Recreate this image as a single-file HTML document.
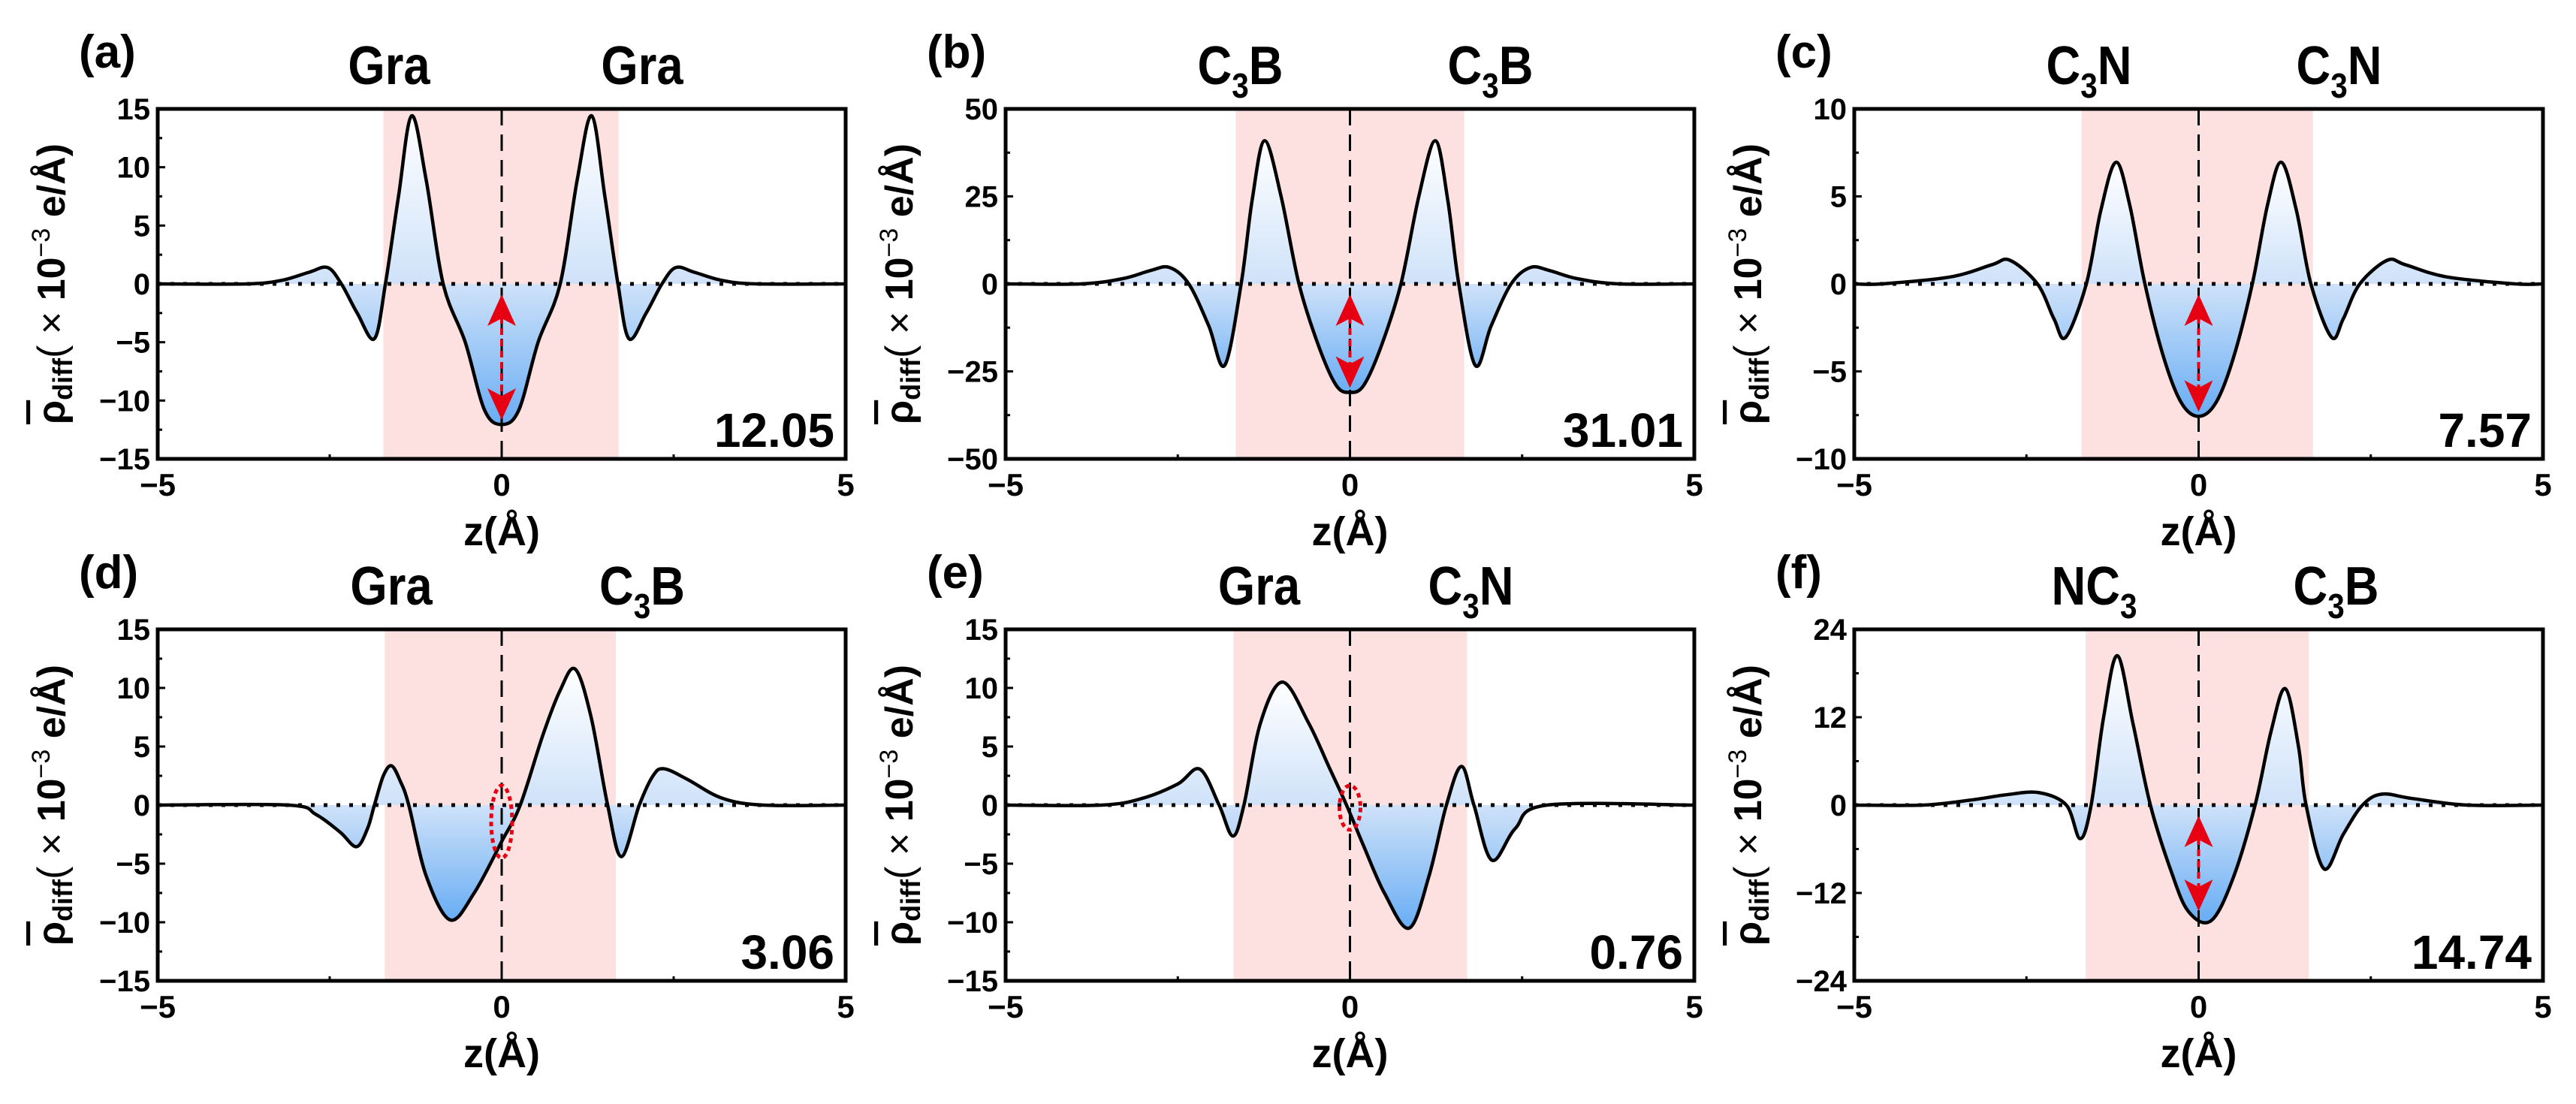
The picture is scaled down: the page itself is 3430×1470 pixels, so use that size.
<!DOCTYPE html>
<html><head><meta charset="utf-8"><style>
html,body{margin:0;padding:0;background:#fff;}
svg{display:block;}
text{font-family:"Liberation Sans Narrow","Liberation Sans",sans-serif;font-weight:bold;fill:#000;}
</style></head><body>
<svg id="fig" xmlns="http://www.w3.org/2000/svg" width="3430" height="1470" viewBox="0 0 3430 1470"></svg>
<script>
// ---- data ----
const zA=[-5,-3.7,-3.2,-2.8,-2.53,-2.33,-2.1,-1.85,-1.69,-1.5,-1.31,-1.1,-0.85,-0.53,-0.25,0,0.25,0.53,0.85,1.1,1.31,1.5,1.69,1.85,2.1,2.33,2.53,2.8,3.2,3.7,5];
const vA=[0,0,0.3,1.0,1.4,0,-2.5,-4.7,0,7.5,14.4,9,0,-5,-10.8,-12.05,-10.8,-5,0,9,14.4,7.5,0,-4.7,-2.5,0,1.4,1.0,0.3,0,0];
const zB=[-5,-3.9,-3.3,-2.9,-2.62,-2.34,-2.05,-1.82,-1.58,-1.42,-1.24,-1.0,-0.74,-0.45,-0.2,0,0.2,0.45,0.74,1.0,1.24,1.42,1.58,1.82,2.05,2.34,2.62,2.9,3.3,3.9,5];
const vB=[0,0,1.5,3.8,4.7,0,-12,-23.3,0,24,40.9,25,0,-18,-29,-31.0,-29,-18,0,25,40.9,24,0,-23.3,-12,0,4.7,3.8,1.5,0,0];
const zC=[-5,-4.6,-3.6,-3.0,-2.74,-2.34,-2.1,-1.93,-1.63,-1.42,-1.2,-1.0,-0.78,-0.5,-0.25,0,0.25,0.5,0.78,1.0,1.2,1.42,1.63,1.93,2.1,2.34,2.74,3.0,3.6,4.6,5];
const vC=[0,0,0.4,1.1,1.35,0,-2,-3.05,0,4.2,6.95,4.5,0,-4.3,-6.8,-7.57,-6.8,-4.3,0,4.5,6.95,4.2,0,-3.05,-2,0,1.35,1.1,0.4,0,0];
const zD=[-5,-3.1,-2.7,-2.35,-2.11,-1.95,-1.85,-1.72,-1.6,-1.47,-1.35,-1.1,-0.75,-0.4,0,0.27,0.6,0.85,1.07,1.3,1.54,1.74,2.0,2.2,2.36,2.7,3.2,3.8,5];
const vD=[0,0,-0.8,-2.3,-3.55,-2,0,2.5,3.35,2,0,-6,-9.8,-7.5,-3.1,0,6,9.8,11.6,7.5,0,-4.4,0,2.5,3.1,2.2,0.6,0,0];
const zE=[-5,-3.6,-3.0,-2.5,-2.18,-1.9,-1.7,-1.54,-1.3,-0.98,-0.6,-0.3,-0.05,0.2,0.5,0.86,1.15,1.4,1.62,1.8,2.06,2.4,2.86,5];
const vE=[0,0,0.6,1.8,3.07,0,-2.65,0,7,10.5,7,3.2,0,-3.5,-7.5,-10.5,-6,0,3.3,0,-4.7,-2,0,0];
const zF=[-5,-4.0,-3.3,-2.8,-2.32,-1.92,-1.72,-1.56,-1.38,-1.18,-0.95,-0.7,-0.4,-0.15,0.18,0.5,0.82,1.05,1.26,1.45,1.56,1.82,2.1,2.38,2.66,3.1,3.9,5];
const vF=[0,0,0.7,1.4,1.7,0,-4.6,0,12,20.4,11,0,-9,-14.5,-15.8,-10,0,10,15.9,8,0,-8.7,-4,0,1.5,0.9,0,0];
const ticksA=[-15,-10,-5,0,5,10,15];
const ticksB=[-50,-25,0,25,50];
const ticksC=[-10,-5,0,5,10];
const ticksF=[-24,-12,0,12,24];
const xTicks=[-5,0,5];
const letters=["(a)","(b)","(c)","(d)","(e)","(f)"];
const valueLabels=["12.05","31.01","7.57","3.06","0.76","14.74"];
const titlesL=[["Gra",""],["C","3","B"],["C","3","N"],["Gra",""],["Gra",""],["NC","3",""]];
const titlesR=[["Gra",""],["C","3","B"],["C","3","N"],["C","3","B"],["C","3","N"],["C","3","B"]];
const bands=[[-1.72,1.70],[-1.66,1.66],[-1.70,1.66],[-1.70,1.66],[-1.69,1.70],[-1.64,1.60]];
const markers=["arrow","arrow","arrow","ellipse","ellipse","arrow"];

// ---- layout ----
const NS="http://www.w3.org/2000/svg";
const svg=document.getElementById('fig');
const panels=[
 {L:210,T:145,W:916,H:466,z:zA,v:vA,t:ticksA,tl:-150,tr:187},
 {L:1339,T:145,W:917,H:466,z:zB,v:vB,t:ticksB,tl:-146,tr:187},
 {L:2469,T:145,W:917,H:466,z:zC,v:vC,t:ticksC,tl:-146,tr:187},
 {L:210,T:838,W:916,H:468,z:zD,v:vD,t:ticksA,tl:-147,tr:187},
 {L:1339,T:838,W:917,H:468,z:zE,v:vE,t:ticksA,tl:-121,tr:161},
 {L:2469,T:838,W:917,H:468,z:zF,v:vF,t:ticksF,tl:-139,tr:183}
];
function mk(tag,attrs,parent){const e=document.createElementNS(NS,tag);for(const k in attrs)e.setAttribute(k,attrs[k]);(parent||svg).appendChild(e);return e;}
function interp(zs,vs,z){for(let i=0;i<zs.length-1;i++){if(z>=zs[i]&&z<=zs[i+1]){const t=(z-zs[i])/(zs[i+1]-zs[i]);return vs[i]+t*(vs[i+1]-vs[i]);}}return 0;}
function curvePath(pts){let d=`M${pts[0][0]},${pts[0][1]}`;
 for(let i=0;i<pts.length-1;i++){const p0=pts[Math.max(0,i-1)],p1=pts[i],p2=pts[i+1],p3=pts[Math.min(pts.length-1,i+2)];
  const c1=[p1[0]+(p2[0]-p0[0])/6,p1[1]+(p2[1]-p0[1])/6],c2=[p2[0]-(p3[0]-p1[0])/6,p2[1]-(p3[1]-p1[1])/6];
  d+=` C${c1[0].toFixed(1)},${c1[1].toFixed(1)} ${c2[0].toFixed(1)},${c2[1].toFixed(1)} ${p2[0].toFixed(1)},${p2[1].toFixed(1)}`;}
 return d;}
function title(g,parts,cx,y,name){
 const t=mk('text',{x:0,y:0,'text-anchor':'middle','font-size':72,transform:`translate(${cx},${y}) scale(0.88,1)`},g);
 
 
 const a=mk('tspan',{},t);a.textContent=parts[0];
 if(parts.length>2){const s=mk('tspan',{'font-size':46,dy:18},t);s.textContent=parts[1];
  if(parts[2]){const b=mk('tspan',{dy:-18},t);b.textContent=parts[2];}}
}
const defs=mk('defs',{});
panels.forEach((p,i)=>{
 const g=mk('g',{});
 
 
 const ymax=p.t[p.t.length-1],ymin=p.t[0];
 const X=z=>p.L+(z+5)/10*p.W;
 const Y=v=>p.T+(ymax-v)/(ymax-ymin)*p.H;
 const y0=Y(0);
 const band=mk('rect',{x:X(bands[i][0]),y:p.T,width:X(bands[i][1])-X(bands[i][0]),height:p.H,fill:'#fde1e0'},g);
 
 
 const vmax=Math.max(...p.v),vmin=Math.min(...p.v);
 const gr=mk('linearGradient',{id:'gr'+i,gradientUnits:'userSpaceOnUse',x1:0,x2:0,y1:Y(vmax),y2:Y(vmin)},defs);
 mk('stop',{offset:0,'stop-color':'#ffffff'},gr);
 mk('stop',{offset:((y0-Y(vmax))/(Y(vmin)-Y(vmax))).toFixed(3),'stop-color':'#cfe2f9'},gr);
 mk('stop',{offset:1,'stop-color':'#68adf4'},gr);
 const pts=p.z.map((z,k)=>[X(z),Y(p.v[k])]);
 const cd=curvePath(pts);
 const fill=mk('path',{d:cd+` L${X(5)},${y0} L${X(-5)},${y0} Z`,fill:`url(#gr${i})`},g);
 
 
 const zl=mk('line',{x1:p.L,x2:p.L+p.W,y1:y0,y2:y0,stroke:'#000','stroke-width':5,'stroke-dasharray':'5 12'},g);
 
 
 const vl=mk('line',{x1:X(0),x2:X(0),y1:p.T,y2:p.T+p.H,stroke:'#000','stroke-width':3,'stroke-dasharray':'22 12'},g);
 
 
 const cv=mk('path',{d:cd,fill:'none',stroke:'#000','stroke-width':4.5,'stroke-linejoin':'round'},g);
 
 
 const v0=interp(p.z,p.v,0);
 if(markers[i]==='arrow'){
  const top=y0+14,bot=Y(v0)-6,cx=X(0);
  const ar=mk('g',{},g);
  
  
  mk('line',{x1:cx,x2:cx,y1:top+30,y2:bot-30,stroke:'#e60012','stroke-width':4,'stroke-dasharray':'9 6'},ar);
  mk('path',{d:`M${cx},${top} L${cx-19},${top+42} L${cx},${top+32} L${cx+19},${top+42} Z`,fill:'#e60012'},ar);
  mk('path',{d:`M${cx},${bot} L${cx-19},${bot-42} L${cx},${bot-32} L${cx+19},${bot-42} Z`,fill:'#e60012'},ar);
 } else {
  const el=mk('ellipse',{cx:X(0),cy:(y0+Y(v0))/2-2,rx:14,ry:Math.abs(Y(v0)-y0)/2+24,fill:'none',stroke:'#e60012','stroke-width':5,'stroke-dasharray':'6 5'},g);
  
  
 }
 const fr=mk('rect',{x:p.L,y:p.T,width:p.W,height:p.H,fill:'none',stroke:'#000','stroke-width':5},g);
 
 
 p.t.forEach((tv,k)=>{
  const y=Y(tv);
  mk('line',{x1:p.L,x2:p.L+10,y1:y,y2:y,stroke:'#000','stroke-width':3},g);
  if(k<p.t.length-1){const ym=Y((tv+p.t[k+1])/2);mk('line',{x1:p.L,x2:p.L+6,y1:ym,y2:ym,stroke:'#000','stroke-width':3},g);}
  const lb=mk('text',{x:p.L-10,y:y+14,'text-anchor':'end','font-size':40},g);
  
  
  lb.textContent=(tv<0?'\u2212':'')+Math.abs(tv);
 });
 xTicks.forEach(tv=>{
  const x=X(tv);
  mk('line',{x1:x,x2:x,y1:p.T+p.H,y2:p.T+p.H-10,stroke:'#000','stroke-width':3},g);
  const lb=mk('text',{x:x,y:p.T+p.H+49,'text-anchor':'middle','font-size':42},g);
  
  
  lb.textContent=(tv<0?'\u2212':'')+Math.abs(tv);
 });
 [-2.5,2.5].forEach(tv=>{const x=X(tv);mk('line',{x1:x,x2:x,y1:p.T+p.H,y2:p.T+p.H-6,stroke:'#000','stroke-width':3},g);});
 const xt=mk('text',{x:X(0),y:p.T+p.H+115,'text-anchor':'middle','font-size':54},g);
 
 
 xt.textContent='z(\u00C5)';
 const yt=mk('text',{x:0,y:0,'text-anchor':'middle','font-size':52,transform:`translate(${p.L-124},${p.T+p.H/2}) rotate(-90)`},g);
 
 
 const s1=mk('tspan',{'text-decoration':'overline'},yt);s1.textContent='\u03C1';
 const s2=mk('tspan',{'font-size':36,dy:10},yt);s2.textContent='diff';
 const s3=mk('tspan',{dy:-10,'font-weight':'normal'},yt);s3.textContent='( \u00D7 ';
 const s4=mk('tspan',{},yt);s4.textContent='10';
 const s5=mk('tspan',{'font-size':34,dy:-20,'font-weight':'normal'},yt);s5.textContent='\u22123';
 const s6=mk('tspan',{dy:20},yt);s6.textContent='  e/\u00C5)';
 const pl=mk('text',{x:p.L-105,y:p.T-55,'font-size':62},g);
 
 
 pl.textContent=letters[i];
 title(g,titlesL[i],X(0)+p.tl,p.T-33,'left-layer-label');
 title(g,titlesR[i],X(0)+p.tr,p.T-33,'right-layer-label');
 const vt=mk('text',{x:p.L+p.W-15,y:p.T+p.H-16,'text-anchor':'end','font-size':64},g);
 
 
 vt.textContent=valueLabels[i];
});
</script>
</body></html>
